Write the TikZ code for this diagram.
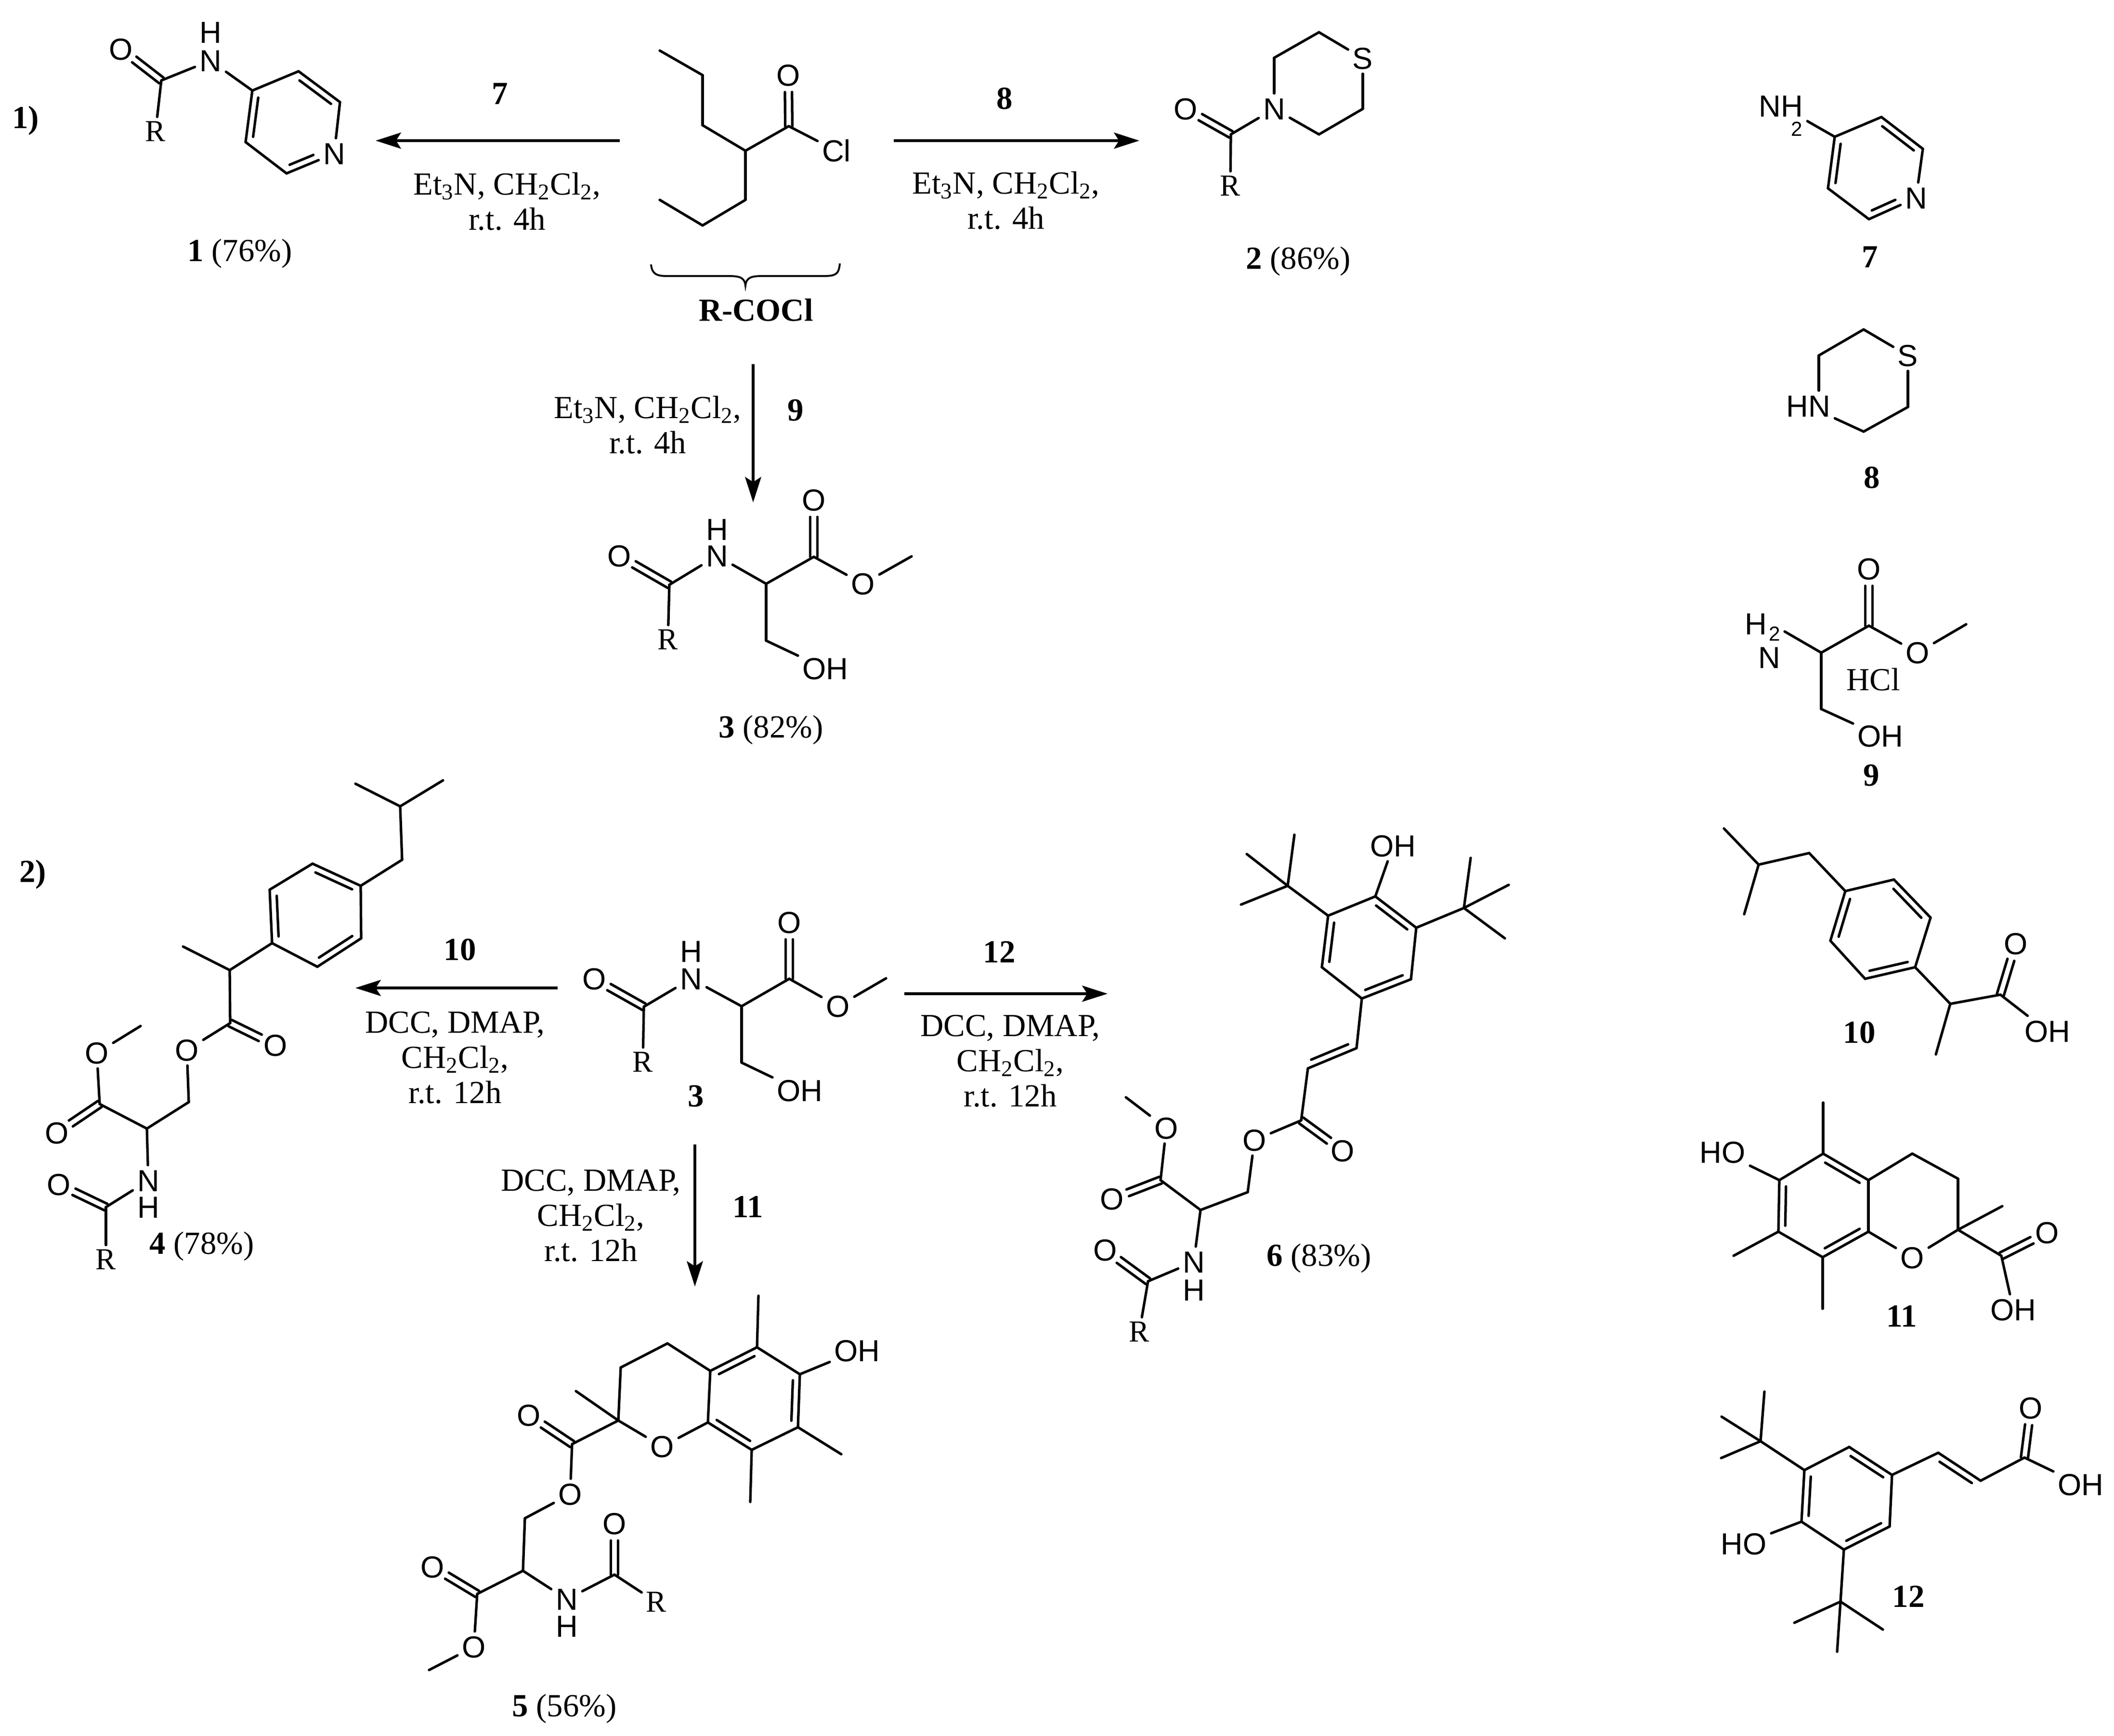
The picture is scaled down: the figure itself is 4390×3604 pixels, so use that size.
\documentclass[tikz,border=0pt]{standalone}
\usepackage{fontspec}
\setmainfont{Liberation Serif}
\newfontfamily\atomfont{Liberation Sans}
\usetikzlibrary{arrows.meta, calc}

\tikzset{
    bondline/.style={line width=1.5pt, line cap=round},
    rxnarrow/.style={line width=1.5pt, -{Stealth[length=15pt, width=9.5pt, inset=3pt]}},
    atomlabel/.style={font=\atomfont\fontsize{18}{20}\selectfont, inner sep=2.5pt, text height=12.9pt, text depth=0pt},
    rgroup/.style={font=\fontsize{18}{20}\selectfont, inner sep=2.5pt, text height=11.9pt, text depth=0pt},
    subdigit/.style={font=\atomfont\fontsize{12}{14}\selectfont, inner sep=0pt},
    condtext/.style={font=\fontsize{19}{20.8}\selectfont, align=center, inner sep=0pt},
    numlabel/.style={font=\bfseries\fontsize{19}{21}\selectfont, inner sep=0pt},
    cpdlabel/.style={font=\fontsize{19}{21}\selectfont, inner sep=0pt},
}

\newcommand{\ringbond}[3][]{\draw[bondline, #1] ($(#2)!.12!(#3)!4pt!90:(#3)$) -- ($(#3)!.12!(#2)!4pt!-90:(#2)$);}
\newcommand{\cobond}[2]{
    \foreach \s in {2.1pt,-2.1pt}
    {
    \draw[bondline, shorten >=10pt] ($(#1)!\s!90:(#2)$) -- ($(#2)!\s!-90:(#1)$);
    }
}

\begin{document}
\begin{tikzpicture}[x=0.01cm, y=-0.01cm]
    \useasboundingbox (0,0) rectangle (4390,3604);

    \foreach \n/\x/\y in {m0a/1370/105, m0b/1459/156, m0c/1459/260, m0d/1548/313, m0e/1638/262, m0f/1548/415, m0g/1459/468, m0h/1370/415}
    {
    \coordinate (\n) at (\x,\y);
    }
    \node[atomlabel] (m0o) at (1637,156) {O};
    \node[atomlabel] (m0cl) at (1737,313) {Cl};
    \foreach \p/\q in {m0a/m0b, m0b/m0c, m0c/m0d, m0d/m0e, m0e/m0cl, m0d/m0f, m0f/m0g, m0g/m0h}
    {
    \draw[bondline] (\p) -- (\q);
    }
    \cobond{m0e}{m0o}
    \draw[line width=1.1pt] (1352,549) .. controls (1354,570) and (1365,573) .. (1385,573) -- (1510,573) .. controls (1535,573) and (1546,575) .. (1548,593) .. controls (1550,575) and (1561,573) .. (1586,573) -- (1710,573) .. controls (1735,573) and (1742,570) .. (1744,547);
    \node[numlabel] (rcocl) at (1570,644) {R-COCl};

    \foreach \n/\x/\y in {m1c/335/167, m1ra/524/188, m1rb/620/148, m1rc/706/212, m1rd/595/360, m1re/510/295}
    {
    \coordinate (\n) at (\x,\y);
    }
    \foreach \n/\x/\y/\txt in {m1o/251/102/O, m1n/437/126/N, m1h/437/67/H, m1rn/694/319/N}
    {
    \node[atomlabel] (\n) at (\x,\y) {\txt};
    }
    \node[rgroup] (m1r) at (323,273) {R};
    \foreach \p/\q in {m1c/m1n, m1c/m1r, m1n/m1ra, m1ra/m1rb, m1rb/m1rc, m1rc/m1rn, m1rn/m1rd, m1rd/m1re, m1re/m1ra}
    {
    \draw[bondline] (\p) -- (\q);
    }
    \cobond{m1c}{m1o}
    \ringbond{m1ra}{m1re}
    \ringbond{m1rc}{m1rb}
    \ringbond[shorten >=8pt]{m1rd}{m1rn}

    \foreach \n/\x/\y in {m2c/2556/279, m2ra/2646/120, m2rb/2739/67, m2rc/2830/226, m2rd/2739/279}
    {
    \coordinate (\n) at (\x,\y);
    }
    \foreach \n/\x/\y/\txt in {m2o/2462/226/O, m2n/2646/226/N, m2s/2830/121/S}
    {
    \node[atomlabel] (\n) at (\x,\y) {\txt};
    }
    \node[rgroup] (m2r) at (2555,386) {R};
    \foreach \p/\q in {m2c/m2n, m2c/m2r, m2n/m2ra, m2ra/m2rb, m2rb/m2s, m2s/m2rc, m2rc/m2rd, m2rd/m2n}
    {
    \draw[bondline] (\p) -- (\q);
    }
    \cobond{m2c}{m2o}

    \foreach \n/\x/\y in {m3c/1390/1214, m3a/1591/1212, m3e/1690/1156, m3m/1893/1155, m3b/1591/1330}
    {
    \coordinate (\n) at (\x,\y);
    }
    \foreach \n/\x/\y/\txt in {m3o/1286/1154/O, m3n/1489/1154/N, m3h/1489/1099/H, m3p/1690/1038/O, m3q/1792/1212/O, m3oh/1714/1388/OH}
    {
    \node[atomlabel] (\n) at (\x,\y) {\txt};
    }
    \node[rgroup] (m3r) at (1387,1328) {R};
    \foreach \p/\q in {m3c/m3n, m3c/m3r, m3n/m3a, m3a/m3e, m3e/m3q, m3q/m3m, m3a/m3b, m3b/m3oh}
    {
    \draw[bondline] (\p) -- (\q);
    }
    \cobond{m3c}{m3o}
    \cobond{m3e}{m3p}

    \foreach \n/\x/\y in {sc/1337/2090, sa/1540/2089, se/1639/2032, sm/1840/2031, sb/1540/2206}
    {
    \coordinate (\n) at (\x,\y);
    }
    \foreach \n/\x/\y/\txt in {so/1234/2032/O, sn/1435/2032/N, sh/1435/1975/H, sp/1639/1915/O, sq/1740/2089/O, soh/1661/2264/OH}
    {
    \node[atomlabel] (\n) at (\x,\y) {\txt};
    }
    \node[rgroup] (sr) at (1335,2205) {R};
    \foreach \p/\q in {sc/sn, sc/sr, sn/sa, sa/se, se/sq, sq/sm, sa/sb, sb/soh}
    {
    \draw[bondline] (\p) -- (\q);
    }
    \cobond{sc}{so}
    \cobond{se}{sp}

    \foreach \n/\x/\y in {m4s/738/1627, m4t/831/1674, m4u/920/1620, m4v/835/1785, m4ra/749/1839, m4rb/649/1793, m4rc/560/1847, m4rd/565/1958, m4re/659/2007, m4rf/750/1948, m4w/477/2014, m4x/380/1965, m4c/478/2124, m4d/392/2288, m4a/305/2343, m4e/207/2292, m4m/292/2130, m4f/220/2506}
    {
    \coordinate (\n) at (\x,\y);
    }
    \foreach \n/\x/\y/\txt in {m4o/572/2170/O, m4q/388/2180/O, m4p/201/2186/O, m4k/118/2352/O, m4n/308/2451/N, m4h/308/2506/H, m4l/122/2459/O}
    {
    \node[atomlabel] (\n) at (\x,\y) {\txt};
    }
    \node[rgroup] (m4r) at (220,2615) {R};
    \foreach \p/\q in {m4s/m4t, m4t/m4u, m4t/m4v, m4v/m4ra, m4ra/m4rb, m4rb/m4rc, m4rc/m4rd, m4rd/m4re, m4re/m4rf, m4rf/m4ra, m4rd/m4w, m4w/m4x, m4w/m4c, m4c/m4q, m4q/m4d, m4d/m4a, m4a/m4e, m4e/m4p, m4p/m4m, m4a/m4n, m4n/m4f, m4f/m4r}
    {
    \draw[bondline] (\p) -- (\q);
    }
    \ringbond{m4ra}{m4rb}
    \ringbond{m4rc}{m4rd}
    \ringbond{m4re}{m4rf}
    \cobond{m4c}{m4o}
    \cobond{m4e}{m4k}
    \cobond{m4f}{m4l}

    \foreach \n/\x/\y in {m5ra/1572/2797, m5rb/1661/2853, m5rc/1657/2963, m5rd/1561/3010, m5re/1470/2953, m5rf/1475/2846, m5s/1575/2690, m5t/1747/3019, m5u/1558/3118, m5v/1386/2789, m5w/1289/2839, m5g/1284/2949, m5x/1196/2888, m5c/1188/2998, m5d/1090/3152, m5a/1086/3261, m5e/991/3309, m5m/891/3467, m5f/1276/3269}
    {
    \coordinate (\n) at (\x,\y);
    }
    \foreach \n/\x/\y/\txt in {m5oh/1780/2804/OH, m5y/1375/3003/O, m5o/1098/2938/O, m5p/1184/3102/O, m5k/898/3253/O, m5l/984/3419/O, m5n/1177/3320/N, m5h/1177/3376/H, m5j/1276/3163/O}
    {
    \node[atomlabel] (\n) at (\x,\y) {\txt};
    }
    \node[rgroup] (m5r) at (1363,3326) {R};
    \foreach \p/\q in {m5ra/m5rb, m5rb/m5rc, m5rc/m5rd, m5rd/m5re, m5re/m5rf, m5rf/m5ra, m5ra/m5s, m5rb/m5oh, m5rc/m5t, m5rd/m5u, m5rf/m5v, m5v/m5w, m5w/m5g, m5g/m5x, m5g/m5y, m5y/m5re, m5g/m5c, m5c/m5p, m5p/m5d, m5d/m5a, m5a/m5e, m5e/m5l, m5l/m5m, m5a/m5n, m5n/m5f, m5f/m5r}
    {
    \draw[bondline] (\p) -- (\q);
    }
    \ringbond{m5ra}{m5rf}
    \ringbond{m5rc}{m5rb}
    \ringbond{m5re}{m5rd}
    \cobond{m5c}{m5o}
    \cobond{m5e}{m5k}
    \cobond{m5f}{m5j}

    \foreach \n/\x/\y in {m6ra/2758/1901, m6rb/2856/1861, m6rc/2941/1926, m6rd/2930/2033, m6re/2828/2073, m6rf/2745/2008, m6s/2674/1839, m6sa/2688/1733, m6sb/2589/1773, m6sc/2577/1878, m6u/3040/1885, m6ua/3054/1781, m6ub/3133/1837, m6uc/3125/1948, m6v/2817/2176, m6w/2716/2218, m6c/2702/2326, m6d/2591/2475, m6a/2493/2512, m6e/2410/2450, m6m/2338/2278, m6f/2384/2660}
    {
    \coordinate (\n) at (\x,\y);
    }
    \foreach \n/\x/\y/\txt in {m6oh/2893/1756/OH, m6o/2788/2389/O, m6q/2605/2367/O, m6p/2422/2342/O, m6k/2309/2489/O, m6n/2479/2620/N, m6h/2479/2678/H, m6l/2295/2595/O}
    {
    \node[atomlabel] (\n) at (\x,\y) {\txt};
    }
    \node[rgroup] (m6r) at (2366,2765) {R};
    \foreach \p/\q in {m6ra/m6rb, m6rb/m6rc, m6rc/m6rd, m6rd/m6re, m6re/m6rf, m6rf/m6ra, m6ra/m6s, m6s/m6sa, m6s/m6sb, m6s/m6sc, m6rb/m6oh, m6rc/m6u, m6u/m6ua, m6u/m6ub, m6u/m6uc, m6re/m6v, m6v/m6w, m6w/m6c, m6c/m6q, m6q/m6d, m6d/m6a, m6a/m6e, m6e/m6p, m6p/m6m, m6a/m6n, m6n/m6f, m6f/m6r}
    {
    \draw[bondline] (\p) -- (\q);
    }
    \ringbond{m6ra}{m6rf}
    \ringbond{m6re}{m6rd}
    \ringbond{m6rc}{m6rb}
    \ringbond{m6w}{m6v}
    \cobond{m6c}{m6o}
    \cobond{m6e}{m6k}
    \cobond{m6f}{m6l}

    \foreach \n/\x/\y in {m7ra/3810/284, m7rb/3907/243, m7rc/3993/309, m7rd/3881/455, m7re/3796/391}
    {
    \coordinate (\n) at (\x,\y);
    }
    \node[atomlabel] (m7nh) at (3698,220) {NH};
    \node[subdigit] (m7two) at (3731,268) {2};
    \node[atomlabel] (m7rn) at (3979,411) {N};
    \foreach \p/\q in {m7nh/m7ra, m7ra/m7rb, m7rb/m7rc, m7rc/m7rn, m7rn/m7rd, m7rd/m7re, m7re/m7ra}
    {
    \draw[bondline] (\p) -- (\q);
    }
    \ringbond{m7ra}{m7re}
    \ringbond{m7rc}{m7rb}
    \ringbond[shorten >=8pt]{m7rd}{m7rn}

    \foreach \n/\x/\y in {m8ra/3777/738, m8rb/3870/684, m8rc/3962/845, m8rd/3870/896}
    {
    \coordinate (\n) at (\x,\y);
    }
    \node[atomlabel] (m8n) at (3755,843) {HN};
    \node[atomlabel] (m8s) at (3962,738) {S};
    \foreach \p/\q in {m8ra/m8rb, m8rb/m8s, m8s/m8rc, m8rc/m8rd, m8rd/m8n}
    {
    \draw[bondline] (\p) -- (\q);
    }
    \draw[bondline] (m8ra) -- (m8ra |- m8n.north);

    \foreach \n/\x/\y in {m9c/3881/1299, m9a/3782/1355, m9x/3706/1311, m9m/4083/1296, m9b/3782/1472}
    {
    \coordinate (\n) at (\x,\y);
    }
    \foreach \n/\x/\y/\txt in {m9p/3881/1181/O, m9q/3982/1355/O, m9oh/3905/1528/OH, m9n/3674/1365/N, m9h/3646/1295/H}
    {
    \node[atomlabel] (\n) at (\x,\y) {\txt};
    }
    \node[subdigit] (m9two) at (3685,1316) {2};
    \node[cpdlabel] (m9hcl) at (3890,1411) {HCl};
    \foreach \p/\q in {m9x/m9a, m9a/m9c, m9c/m9q, m9q/m9m, m9a/m9b, m9b/m9oh}
    {
    \draw[bondline] (\p) -- (\q);
    }
    \cobond{m9c}{m9p}

    \foreach \n/\x/\y in {m10s/3580/1720, m10t/3652/1795, m10u/3622/1898, m10v/3757/1771, m10ra/3832/1850, m10rb/3933/1826, m10rc/4009/1905, m10rd/3977/2008, m10re/3873/2032, m10rf/3801/1953, m10w/4050/2084, m10x/4020/2189, m10c/4154/2065}
    {
    \coordinate (\n) at (\x,\y);
    }
    \node[atomlabel] (m10o) at (4186,1959) {O};
    \node[atomlabel] (m10oh) at (4252,2141) {OH};
    \foreach \p/\q in {m10s/m10t, m10t/m10u, m10t/m10v, m10v/m10ra, m10ra/m10rb, m10rb/m10rc, m10rc/m10rd, m10rd/m10re, m10re/m10rf, m10rf/m10ra, m10rd/m10w, m10w/m10x, m10w/m10c, m10c/m10oh}
    {
    \draw[bondline] (\p) -- (\q);
    }
    \ringbond{m10ra}{m10rf}
    \ringbond{m10re}{m10rd}
    \ringbond{m10rc}{m10rb}
    \cobond{m10c}{m10o}

    \foreach \n/\x/\y in {m11ra/3786/2395, m11rb/3695/2450, m11rc/3693/2557, m11rd/3785/2610, m11re/3880/2557, m11rf/3880/2450, m11s/3786/2289, m11t/3600/2607, m11u/3785/2717, m11v/3971/2395, m11w/4066/2447, m11g/4066/2553, m11x/4158/2504, m11c/4156/2607}
    {
    \coordinate (\n) at (\x,\y);
    }
    \foreach \n/\x/\y/\txt in {m11ho/3577/2392/HO, m11y/3971/2611/O, m11o/4251/2559/O, m11oh/4181/2719/OH}
    {
    \node[atomlabel] (\n) at (\x,\y) {\txt};
    }
    \foreach \p/\q in {m11ra/m11rb, m11rb/m11rc, m11rc/m11rd, m11rd/m11re, m11re/m11rf, m11rf/m11ra, m11ra/m11s, m11rb/m11ho, m11rc/m11t, m11rd/m11u, m11rf/m11v, m11v/m11w, m11w/m11g, m11g/m11x, m11g/m11y, m11y/m11re, m11g/m11c, m11c/m11oh}
    {
    \draw[bondline] (\p) -- (\q);
    }
    \ringbond{m11rf}{m11ra}
    \ringbond{m11rb}{m11rc}
    \ringbond{m11rd}{m11re}
    \cobond{m11c}{m11o}

    \foreach \n/\x/\y in {m12ra/3747/3052, m12rb/3840/3004, m12rc/3929/3062, m12rd/3924/3169, m12re/3829/3217, m12rf/3741/3159, m12s/3656/2992, m12sa/3664/2889, m12sb/3575/2941, m12sc/3574/3027, m12u/3822/3325, m12ua/3726/3369, m12ub/3910/3383, m12uc/3815/3429, m12v/4025/3016, m12w/4113/3074, m12c/4204/3026}
    {
    \coordinate (\n) at (\x,\y);
    }
    \foreach \n/\x/\y/\txt in {m12ho/3621/3205/HO, m12o/4217/2923/O, m12oh/4321/3082/OH}
    {
    \node[atomlabel] (\n) at (\x,\y) {\txt};
    }
    \foreach \p/\q in {m12ra/m12rb, m12rb/m12rc, m12rc/m12rd, m12rd/m12re, m12re/m12rf, m12rf/m12ra, m12ra/m12s, m12s/m12sa, m12s/m12sb, m12s/m12sc, m12rf/m12ho, m12re/m12u, m12u/m12ua, m12u/m12ub, m12u/m12uc, m12rc/m12v, m12v/m12w, m12w/m12c, m12c/m12oh}
    {
    \draw[bondline] (\p) -- (\q);
    }
    \ringbond{m12ra}{m12rf}
    \ringbond{m12re}{m12rd}
    \ringbond{m12rc}{m12rb}
    \ringbond{m12w}{m12v}
    \cobond{m12c}{m12o}

    \foreach \n/\xa/\ya/\xb/\yb in {ar1/1287/292/780/292, ar2/1856/292/2366/292, ar3/1564/756/1564/1043, ar4/1158/2051/738/2051, ar5/1878/2063/2300/2063, ar6/1443/2376/1443/2671}
    {
    \coordinate (\n s) at (\xa,\ya);
    \coordinate (\n e) at (\xb,\yb);
    \draw[rxnarrow] (\n s) -- (\n e);
    }

    \foreach \n/\x/\y in {ct1/1053/418, ct2/2089/416, ct3/1345/882}
    {
    \node[condtext] (\n) at (\x,\y) {Et\textsubscript{3}N, CH\textsubscript{2}Cl\textsubscript{2},\\r.t. 4h};
    }
    \foreach \n/\x/\y in {ct4/945/2196, ct5/2098/2203, ct6/1227/2524}
    {
    \node[condtext] (\n) at (\x,\y) {DCC, DMAP,\\CH\textsubscript{2}Cl\textsubscript{2},\\r.t. 12h};
    }

    \foreach \n/\x/\y/\txt in {lb1/53/250/1), lb2/68/1815/2), n7/1038/195/7, n8/2086/205/8, n9/1652/852/9, n10/955/1972/10, n11/1553/2505/11, n12/2075/1976/12, s3/1445/2276/3, s7/3883/534/7, s8/3887/992/8, s9/3886/1610/9, s10/3861/2144/10, s11/3949/2732/11, s12/3963/3314/12}
    {
    \node[numlabel] (\n) at (\x,\y) {\txt};
    }

    \foreach \n/\x/\y/\num/\pct in {y1/498/526/1/76, y2/2696/542/2/86, y3/1601/1515/3/82, y4/419/2587/4/78, y5/1172/3547/5/56, y6/2739/2612/6/83}
    {
    \node[cpdlabel] (\n) at (\x,\y) {\textbf{\num} (\pct\%)};
    }
\end{tikzpicture}
\end{document}
